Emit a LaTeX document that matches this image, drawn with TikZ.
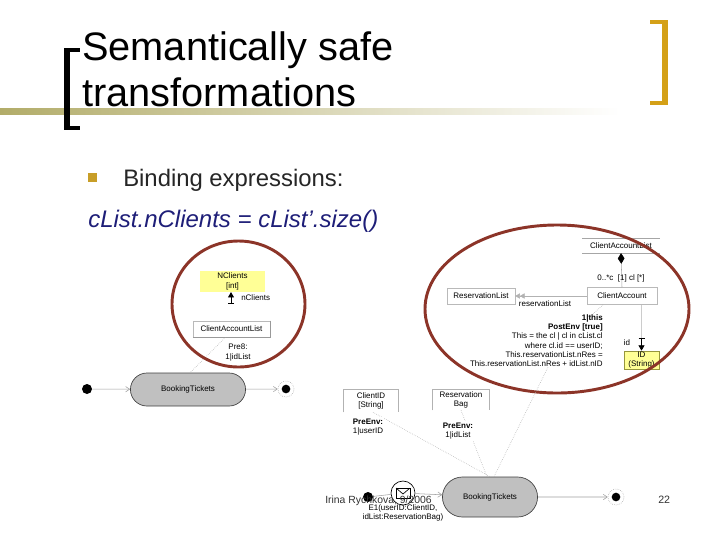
\documentclass[tikz,border=0pt]{standalone}
\usepackage{fontspec}
\setmainfont{Liberation Sans}
\usetikzlibrary{shapes.misc,shapes.geometric,arrows.meta,calc}
\definecolor{gold}{RGB}{212,160,23}
\definecolor{bul}{RGB}{200,158,40}
\definecolor{ring}{RGB}{140,52,40}
\definecolor{navy}{RGB}{30,30,120}
\definecolor{statefill}{RGB}{192,192,192}
\definecolor{notey}{RGB}{255,255,150}
\definecolor{notebd}{RGB}{150,150,60}
\definecolor{band}{RGB}{178,172,105}
\tikzset{
  dtxt/.style={font=\fontsize{6}{7}\selectfont, inner sep=0pt},
  clsbox/.style={dtxt, draw=gray!55, fill=white, line width=0.4pt},
  statebox/.style={rounded rectangle, draw=black!75, fill=statefill, line width=0.5pt, font=\fontsize{6}{7}\selectfont},
  initdot/.style={circle, fill=black, inner sep=0pt, minimum size=7.5pt},
  findot/.style={circle, fill=black, inner sep=0pt, minimum size=6.5pt},
  finring/.style={circle, draw=gray!80, densely dotted, inner sep=0pt, minimum size=12pt},
  trans/.style={draw=gray!75, line width=0.4pt, -{Straight Barb[length=3pt,width=4pt]}},
  depline/.style={draw=gray!70, densely dotted, line width=0.4pt},
  navtip/.style={line width=0.6pt, {Bar[width=4.5pt]}-{Triangle[length=4pt,width=4.5pt]}},
  ringline/.style={draw=ring, line width=2.2pt}
}
\begin{document}
\begin{tikzpicture}[x=0.75pt,y=-0.75pt]
\useasboundingbox (0,0) rectangle (720,540);
\fill[white] (0,0) rectangle (720,540);

% title band and brackets
\shade[left color=band, right color=white] (0,108) rectangle (620,114);
\fill[black] (64,48) rectangle (70,130);
\fill[black] (64,48) rectangle (80,52);
\fill[black] (64,126) rectangle (80,130);
\fill[gold] (662,20) rectangle (668,105);
\fill[gold] (650,20) rectangle (668,24);
\fill[gold] (650,101) rectangle (668,105);

\node[anchor=base west, inner sep=0pt, font=\fontsize{29.8}{34}\selectfont] (t1) at (82,60) {Semantically safe};
\node[anchor=base west, inner sep=0pt, font=\fontsize{29.8}{34}\selectfont] (t2) at (82,106) {transformations};

% bullet and body text
\fill[bul] (88,173) rectangle (97,182);
\node[anchor=base west, inner sep=0pt, font=\fontsize{17.9}{21}\selectfont, text=black!85] (b1) at (123,186) {Binding expressions:};
\node[anchor=base west, inner sep=0pt, font=\fontsize{18}{21}\selectfont\itshape, text=navy] (b2) at (88,227) {cList.nClients = cList’.size()};

% ---------------- left state machine ----------------
\node[statebox, minimum width=93pt, minimum height=24.75pt] (lbt) at (188,389.5) {BookingTickets};
\node[initdot] (linit) at (87,389) {};
\node[finring] (lfinr) at (286,389) {};
\node[findot] (lfin) at (286,389) {};
\draw[trans] (linit) -- (lbt);
\draw[trans] (lbt) -- (lfinr);

% left circle contents
\node[dtxt, fill=notey, minimum width=48.75pt, minimum height=15.5pt, align=center] (ncl) at (232.5,281.5) {NClients\\{[}int{]}};
\node[clsbox, minimum width=57.75pt, minimum height=12pt] (lcal) at (231.5,329) {ClientAccountList};
\draw[gray!80, line width=0.5pt] (lcal.north east) -- (lcal.south east) -- (lcal.south west);
\coordinate (nav1) at (231,304);
\draw[navtip] (nav1) -- (ncl.south -| nav1);
\node[dtxt, anchor=west] (ncllab) at (241,298) {nClients};
\node[dtxt, align=center] (pre8) at (238,352.5) {Pre8:\\1|idList};
\draw[depline] ($(lcal.south)+(-6,0)$) -- ($(lbt.north)+(2,0)$);

\draw[ringline] (238.5,304) ellipse [x radius=66.5, y radius=63];

% ---------------- right class diagram ----------------
\node[dtxt, minimum width=57.75pt, minimum height=11pt] (rcal) at (621,245.5) {ClientAccountList};
\draw[gray!70, line width=0.4pt] (rcal.north west) -- (rcal.north east);
\draw[gray!70, line width=0.4pt] (rcal.south west) -- (rcal.south east);
\node[clsbox, minimum width=52.5pt, minimum height=12.75pt] (rca) at (622,296) {ClientAccount};
\draw[gray!70, line width=0.4pt, {Diamond[length=8pt,width=5pt,fill=black,color=black]}-] (rcal.south) -- (rca.north);
\node[dtxt] (mult) at (621,278) {0..*c\ \ [1]\ cl\ [*]};
\node[clsbox, minimum width=51pt, minimum height=12pt] (rl) at (481,296) {ReservationList};
\draw[gray!60, line width=0.4pt, -{Triangle[length=3.5pt,width=4pt]Triangle[length=3.5pt,width=4pt]}] (rca.west) -- (rl.east);
\node[dtxt] (rllab) at (545,304) {reservationList};

\node[dtxt, align=right, anchor=north east, font=\fontsize{6}{7}\selectfont] (post) at (603,314)
  {\textbf{1|this}\\\textbf{PostEnv [true]}\\This = the cl | cl in cList.cl\\where cl.id == userID;\\This.reservationList.nRes =\\This.reservationList.nRes + idList.nID};
\draw[depline] ($(rca.south)+(-19,0)$) -- ($(post.north east)+(-10,0)$);

\node[dtxt, fill=notey, draw=notebd, line width=0.5pt, minimum width=26pt, minimum height=13.5pt, align=center] (rid) at (641.5,360) {ID\\(String)};
\coordinate (nav2) at (641.5,338);
\draw[gray!40, line width=0.4pt] (rca.south -| nav2) -- (nav2);
\draw[navtip] (nav2) -- (rid.north);
\node[dtxt] (idlab) at (627,343) {id};

\draw[ringline] (557,309) ellipse [x radius=132, y radius=84];

% ---------------- bottom state machine ----------------
\node[statebox, minimum width=78pt, minimum height=30pt] (bbt) at (490,497) {BookingTickets};
\node[initdot] (binit) at (368,497) {};
\node[circle, draw=black, fill=white, line width=0.5pt, minimum size=18pt, inner sep=0pt] (env) at (403,493) {};
\draw[line width=0.5pt] (396,488) rectangle (410,498);
\draw[line width=0.5pt] (396,488) -- (403,494) -- (410,488);
\node[finring] (bfinr) at (616,497) {};
\node[findot] (bfin) at (616,497) {};
\draw[gray!75, line width=0.4pt] (binit) -- (env);
\draw[trans] (env) -- (bbt);
\draw[trans] (bbt) -- (bfinr);
\node[dtxt, align=center] (sig) at (403,513) {E1(userID:ClientID,\\idList:ReservationBag)};

\node[dtxt, minimum width=40.5pt, minimum height=16.5pt, align=center] (cid) at (371,401) {ClientID\\{[}String{]}};
\draw[gray!60, line width=0.4pt] (cid.south west) -- (cid.north west) -- (cid.north east) -- (cid.south east);
\node[dtxt, minimum width=42pt, minimum height=15pt, align=center] (rbag) at (461,400) {Reservation\\Bag};
\draw[gray!60, line width=0.4pt] (rbag.south west) -- (rbag.north west) -- (rbag.north east) -- (rbag.south east);

\draw[depline] ($(cid.south)+(2,0)$) -- ($(bbt.north)+(0,0)$);
\draw[depline] (rbag.south) -- ($(bbt.north)+(-3,0)$);
\draw[depline] ($(post.south east)+(-55,0)$) -- ($(bbt.north)+(4,0)$);

\node[dtxt, fill=white, inner sep=1pt, align=center] (pre1) at (368,427) {\textbf{PreEnv:}\\1|userID};
\node[dtxt, fill=white, inner sep=1pt, align=center] (pre2) at (458,431) {\textbf{PreEnv:}\\1|idList};

% footer
\node[anchor=base west, inner sep=0pt, font=\fontsize{7.8}{9}\selectfont, text=black!80] (foot) at (325,503) {Irina Rychkova, 9/2006};
\node[anchor=base west, inner sep=0pt, font=\fontsize{8}{9}\selectfont, text=black!80] (pg) at (658,503) {22};
\end{tikzpicture}
\end{document}
